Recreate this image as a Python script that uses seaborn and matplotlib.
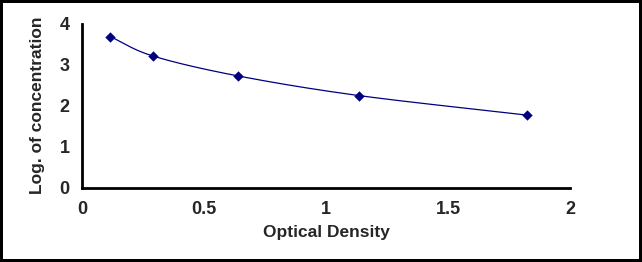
import numpy as np
import pandas as pd
import matplotlib
matplotlib.use('Agg')
import matplotlib.pyplot as plt
import seaborn as sns

# valeurs
optical_density = [0.116, 0.292, 0.639, 1.134, 1.825]
log_concentration = [3.69, 3.215, 2.73, 2.25, 1.77]
x_ticks = [0, 0.5, 1, 1.5, 2]
x_tick_labels = ['0', '0.5', '1', '1.5', '2']
y_ticks = [0, 1, 2, 3, 4]


def smooth_curve(x, y, n=40):
    """Lissage type Excel (Catmull-Rom) pour le tracé de la courbe"""
    x = np.asarray(x, float)
    y = np.asarray(y, float)
    px = np.concatenate([[2 * x[0] - x[1]], x, [2 * x[-1] - x[-2]]])
    py = np.concatenate([[2 * y[0] - y[1]], y, [2 * y[-1] - y[-2]]])
    xs, ys = [], []
    t = np.linspace(0, 1, n)
    for i in range(1, len(px) - 2):
        for p, out in ((px, xs), (py, ys)):
            p0, p1, p2, p3 = p[i - 1], p[i], p[i + 1], p[i + 2]
            out.append(0.5 * ((2 * p1) + (-p0 + p2) * t
                              + (2 * p0 - 5 * p1 + 4 * p2 - p3) * t ** 2
                              + (-p0 + 3 * p1 - 3 * p2 + p3) * t ** 3))
    return np.concatenate(xs), np.concatenate(ys)


sns.set_style('white')
plt.rcParams['font.family'] = ['Liberation Sans', 'DejaVu Sans']
plt.rcParams['font.weight'] = 'bold'

df = pd.DataFrame({'od': optical_density, 'logc': log_concentration})
cx, cy = smooth_curve(optical_density, log_concentration)
curve = pd.DataFrame({'od': cx, 'logc': cy})

fig = plt.figure(figsize=(6.42, 2.62), dpi=100, edgecolor='black', linewidth=3)
ax = fig.add_axes([82 / 642, 1 - 187.5 / 262, 488 / 642, 163.5 / 262])

sns.lineplot(data=curve, x='od', y='logc', ax=ax, color='#000080',
             linewidth=0.9, sort=False, estimator=None)
sns.scatterplot(data=df, x='od', y='logc', ax=ax, color='#000080',
                marker='D', s=28, edgecolor='#000080', linewidth=0, zorder=3)

ax.set_xlim(0, 2)
ax.set_ylim(0, 4)
ax.set_xticks(x_ticks)
ax.set_xticklabels(x_tick_labels)
ax.set_yticks(y_ticks)
ax.set_xlabel('Optical Density', fontsize=12.5, fontweight='bold', labelpad=5)
ax.set_ylabel('Log. of concentration', fontsize=12.5, fontweight='bold', labelpad=10)

for side in ('top', 'right'):
    ax.spines[side].set_visible(False)
for side in ('left', 'bottom'):
    ax.spines[side].set_linewidth(2)
    ax.spines[side].set_color('black')

ax.tick_params(axis='x', direction='in', length=5, width=2, labelsize=13, pad=10)
ax.tick_params(axis='y', direction='out', length=5, width=2, labelsize=13, pad=4)
ax.grid(False)

fig.savefig('out.png', dpi=100)
